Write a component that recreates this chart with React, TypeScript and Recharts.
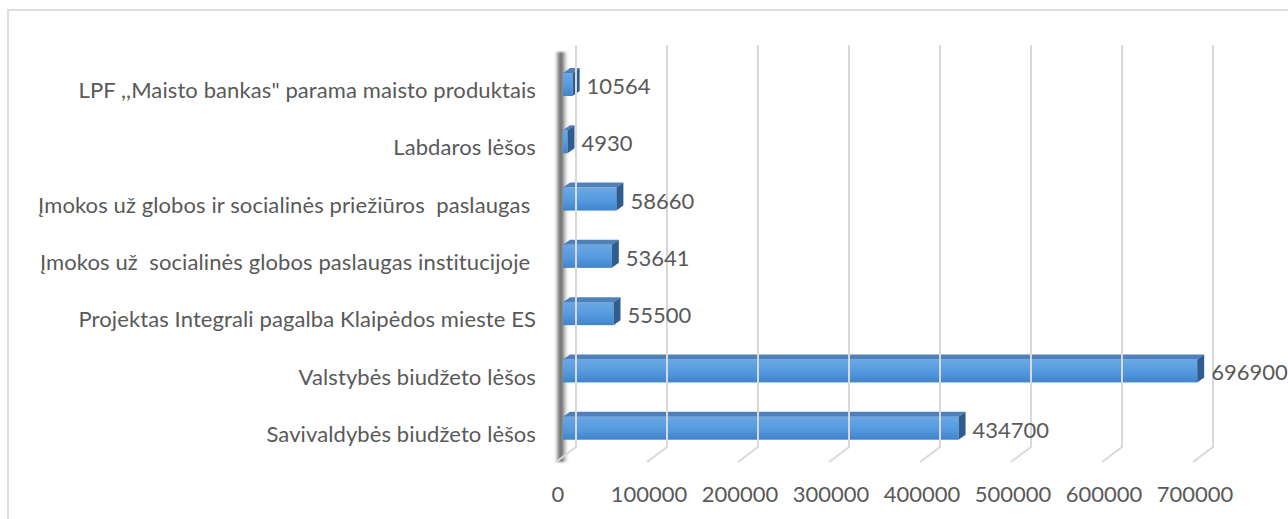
import React from "react";
import { BarChart, Bar, XAxis, YAxis, LabelList } from "recharts";

const categories = [
  'LPF ,,Maisto bankas" parama maisto produktais',
  "Labdaros lėšos",
  "Įmokos už globos ir socialinės priežiūros  paslaugas ",
  "Įmokos už  socialinės globos paslaugas institucijoje ",
  "Projektas Integrali pagalba Klaipėdos mieste ES",
  "Valstybės biudžeto lėšos",
  "Savivaldybės biudžeto lėšos",
];
const values = [10564, 4930, 58660, 53641, 55500, 696900, 434700];
const xTicks = [0, 100000, 200000, 300000, 400000, 500000, 600000, 700000];

const data = categories.map((name, i) => ({ name, value: values[i] }));

const TEXT = "#595959";
const FONT = "Lato, 'Noto Sans', sans-serif";
const DX = 7;
const DY = 5;

const BarShape = (props: any) => {
  const { x, y, width, height } = props;
  if (width == null || height == null) return null;
  const w = Math.max(width, 0);
  return (
    <g>
      <rect x={x} y={y} width={w} height={height} fill="url(#frontGrad)" />
      <polygon
        points={`${x},${y} ${x + DX},${y - DY} ${x + w + DX},${y - DY} ${x + w},${y}`}
        fill="#4f80b9"
      />
      <polygon
        points={`${x + w},${y} ${x + w + DX},${y - DY} ${x + w + DX},${y + height - DY} ${x + w},${y + height}`}
        fill="#2f5d8f"
      />
    </g>
  );
};

const ValueLabel = (props: any) => {
  const { x, y, width, height, value } = props;
  return (
    <text
      x={x + width + DX + 7}
      y={y + height / 2 + 1}
      fill={TEXT}
      fontSize={22}
      fontFamily={FONT}
      dominantBaseline="central"
      textAnchor="start"
    >
      {value}
    </text>
  );
};

const CategoryTick = (props: any) => {
  const { y, payload } = props;
  return (
    <text
      x={536}
      y={y + 5}
      fill={TEXT}
      fontSize={22}
      fontFamily={FONT}
      letterSpacing={0.1}
      textAnchor="end"
      dominantBaseline="central"
      style={{ whiteSpace: "pre" }}
    >
      {payload.value}
    </text>
  );
};

const XTick = (props: any) => {
  const { x, payload } = props;
  const bx = x + 13;
  return (
    <g>
      <polyline
        points={`${bx},45 ${bx},447 ${x - 7},462`}
        fill="none"
        stroke="#d9d9d9"
        strokeWidth={2}
      />
      <text
        x={x - 5}
        y={493}
        fill={TEXT}
        fontSize={22}
        fontFamily={FONT}
        textAnchor="middle"
        dominantBaseline="central"
      >
        {payload.value}
      </text>
    </g>
  );
};

export default function App() {
  return (
    <div style={{ position: "absolute", left: 0, top: 0, width: 1288, height: 519, background: "#fff", overflow: "hidden" }}>
      <div
        style={{
          position: "absolute",
          left: 7,
          top: 9,
          width: 1300,
          height: 530,
          border: "2px solid #dedede",
          boxSizing: "border-box",
        }}
      />
      <div
        style={{
          position: "absolute",
          left: 555,
          top: 52,
          width: 13,
          height: 410,
          background:
            "linear-gradient(to right, rgba(120,120,120,0) 0%, rgba(80,80,80,0.75) 35%, rgba(70,70,70,0.8) 50%, rgba(160,160,160,0.6) 75%, rgba(200,200,200,0) 100%)",
          filter: "blur(1.2px)",
        }}
      />
      <div style={{ position: "absolute", left: 0, top: 0 }}>
        <BarChart
          width={1288}
          height={519}
          data={data}
          layout="vertical"
          margin={{ top: 56, right: 88, bottom: 0, left: 0 }}
          barSize={23}
        >
          <defs>
            <linearGradient id="frontGrad" x1="0" y1="0" x2="0" y2="1">
              <stop offset="0%" stopColor="#6aa8e4" />
              <stop offset="55%" stopColor="#559ade" />
              <stop offset="100%" stopColor="#3f84cc" />
            </linearGradient>
          </defs>
          <XAxis
            type="number"
            domain={[0, 700000]}
            ticks={xTicks}
            axisLine={false}
            tickLine={false}
            height={62}
            tick={<XTick />}
            interval={0}
          />
          <YAxis
            type="category"
            dataKey="name"
            width={563}
            axisLine={false}
            tickLine={false}
            tick={<CategoryTick />}
            interval={0}
          />
          <Bar dataKey="value" isAnimationActive={false} shape={<BarShape />}>
            <LabelList dataKey="value" content={<ValueLabel />} />
          </Bar>
        </BarChart>
      </div>
    </div>
  );
}
